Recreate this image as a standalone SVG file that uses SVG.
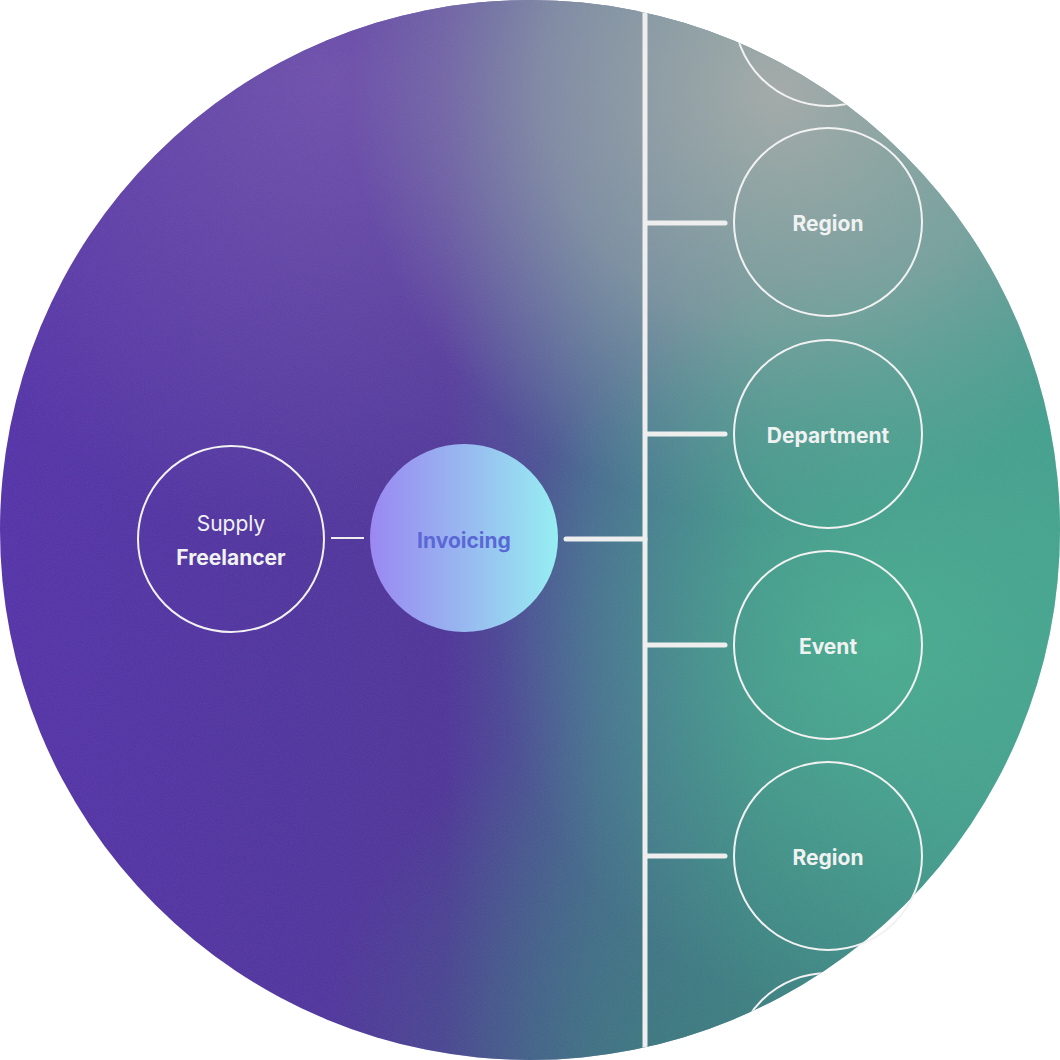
<svg xmlns="http://www.w3.org/2000/svg" width="1060" height="1060" viewBox="0 0 1060 1060">
  <defs>
    <clipPath id="disc"><circle cx="530" cy="530" r="530"/></clipPath>
    <linearGradient id="base" x1="0" y1="0" x2="1060" y2="0" gradientUnits="userSpaceOnUse">
      <stop offset="0" stop-color="#5230a8"/>
      <stop offset="0.42" stop-color="#4c3298"/>
      <stop offset="0.56" stop-color="#456290"/>
      <stop offset="0.72" stop-color="#3e8488"/>
      <stop offset="1" stop-color="#3e9a8c"/>
    </linearGradient>
    <radialGradient id="topPurple" cx="330" cy="80" r="460" gradientUnits="userSpaceOnUse">
      <stop offset="0" stop-color="#7a5ab2" stop-opacity="0.7"/>
      <stop offset="1" stop-color="#7a5ab2" stop-opacity="0"/>
    </radialGradient>
    <radialGradient id="topGrey" cx="780" cy="90" r="430" gradientUnits="userSpaceOnUse">
      <stop offset="0" stop-color="#a8acaa" stop-opacity="0.95"/>
      <stop offset="0.55" stop-color="#98aaa8" stop-opacity="0.6"/>
      <stop offset="1" stop-color="#88aaa8" stop-opacity="0"/>
    </radialGradient>
    <radialGradient id="green" cx="880" cy="640" r="380" gradientUnits="userSpaceOnUse">
      <stop offset="0" stop-color="#48b490" stop-opacity="0.8"/>
      <stop offset="1" stop-color="#48b490" stop-opacity="0"/>
    </radialGradient>
    <radialGradient id="bottomDark" cx="680" cy="1060" r="360" gradientUnits="userSpaceOnUse">
      <stop offset="0" stop-color="#357a78" stop-opacity="0.7"/>
      <stop offset="1" stop-color="#357a78" stop-opacity="0"/>
    </radialGradient>
    <linearGradient id="inv" x1="0" y1="0" x2="1" y2="0">
      <stop offset="0" stop-color="#9a88f2"/>
      <stop offset="0.5" stop-color="#98b8f0"/>
      <stop offset="1" stop-color="#96eef2"/>
    </linearGradient>
    <filter id="grain" x="0" y="0" width="100%" height="100%">
      <feTurbulence type="fractalNoise" baseFrequency="0.9" numOctaves="2" seed="3" result="n"/>
      <feColorMatrix in="n" type="matrix" values="0 0 0 0 0.5  0 0 0 0 0.5  0 0 0 0 0.5  0 0 0 0.12 0"/>
    </filter>
    <style>
      .ring { fill: none; stroke: #f2f2f2; stroke-width: 2; }
      .lbl { font-family: Inter, "Liberation Sans", sans-serif; font-size: 21px; font-weight: 700; fill: #f0f2f2; text-anchor: middle; }
      .reg { font-family: Inter, "Liberation Sans", sans-serif; font-size: 21px; font-weight: 400; fill: #f0f2f2; text-anchor: middle; }
      .trunk { stroke: #eeeeee; stroke-width: 5; fill: none; }
      .branch { stroke: #eeeeee; stroke-width: 5; stroke-linecap: round; fill: none; }
    </style>
  </defs>

  <g id="background" clip-path="url(#disc)">
    <rect width="1060" height="1060" fill="url(#base)"/>
    <rect width="1060" height="1060" fill="url(#topPurple)"/>
    <rect width="1060" height="1060" fill="url(#bottomDark)"/>
    <rect width="1060" height="1060" fill="url(#topGrey)"/>
    <rect width="1060" height="1060" fill="url(#green)"/>
    <rect width="1060" height="1060" filter="url(#grain)"/>
  </g>

  <g id="connectors" clip-path="url(#disc)">
    <line class="trunk" x1="645" y1="0" x2="645" y2="1060"/>
    <line x1="331" y1="538" x2="364" y2="538" stroke="#eeeeee" stroke-width="2"/>
    <line class="branch" x1="566" y1="539" x2="645" y2="539"/>
    <line class="branch" x1="647" y1="223" x2="725" y2="223"/>
    <line class="branch" x1="647" y1="434" x2="725" y2="434"/>
    <line class="branch" x1="647" y1="645" x2="725" y2="645"/>
    <line class="branch" x1="647" y1="856" x2="725" y2="856"/>
  </g>

  <g id="node-supply-freelancer">
    <circle class="ring" cx="231" cy="539" r="93"/>
    <text class="reg" x="231" y="531">Supply</text>
    <text class="lbl" x="231" y="565">Freelancer</text>
  </g>

  <g id="node-invoicing">
    <circle cx="464" cy="538" r="94" fill="url(#inv)"/>
    <text class="lbl" x="464" y="548" style="fill:#5a68d6">Invoicing</text>
  </g>

  <g id="node-top-partial" clip-path="url(#disc)">
    <circle class="ring" cx="828" cy="12" r="94"/>
  </g>

  <g id="node-region-1">
    <circle class="ring" cx="828" cy="222" r="94"/>
    <text class="lbl" x="828" y="231">Region</text>
  </g>

  <g id="node-department">
    <circle class="ring" cx="828" cy="434" r="94"/>
    <text class="lbl" x="828" y="443">Department</text>
  </g>

  <g id="node-event">
    <circle class="ring" cx="828" cy="645" r="94"/>
    <text class="lbl" x="828" y="654">Event</text>
  </g>

  <g id="node-region-2">
    <circle class="ring" cx="828" cy="856" r="94"/>
    <text class="lbl" x="828" y="865">Region</text>
  </g>

  <g id="node-bottom-partial" clip-path="url(#disc)">
    <circle class="ring" cx="828" cy="1067" r="94"/>
  </g>
</svg>
